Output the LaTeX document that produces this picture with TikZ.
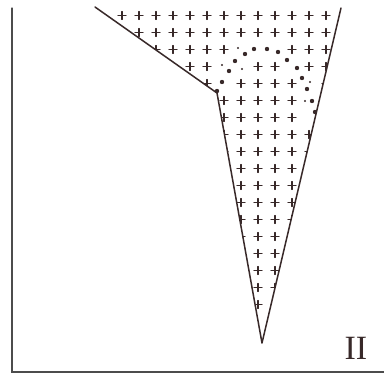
\documentclass[tikz,border=0pt]{standalone}
\usepackage{fontspec}
\setmainfont{Liberation Serif}
\definecolor{inkc}{rgb}{0.22,0.16,0.16}
\begin{document}
\begin{tikzpicture}[x=1pt, y=-1pt, line cap=round, inkc]
    \useasboundingbox (0,0) rectangle (384,375);
    \draw[line width=1.3pt, black!70] (12,8) -- (12,372) -- (384,372);
    \coordinate (tl) at (95,7);
    \coordinate (kink) at (217,93);
    \coordinate (tip) at (262,343);
    \coordinate (tr) at (341,8);
    % crosses left out along the dotted arc
    \foreach \p in {7-2,8-2,9-2,6-3,7-3,10-3,6-4,11-4,11-5,11-6}
        \expandafter\gdef\csname sk\p\endcsname{};
    \begin{scope}
        \clip (tl) -- (kink) -- (tip) -- (tr) -- cycle;
        \foreach \i in {0,...,12}
            \foreach \j in {0,...,17}{
                \ifcsname sk\i-\j\endcsname\else
                    \draw[line width=1.1pt] ({122+17*\i},{15.5+17*\j}) ++(-4,0) -- ++(8,0) ++(-4,-4) -- ++(0,8);
                \fi}
    \end{scope}
    \draw[line width=1.5pt, line join=round] (tl) -- (kink) -- (tip) -- (tr);
    \foreach \x/\y in {217/91,222/82,229/71,235/61,245/54,254/49,267/49,278/52,287/60,297/68,302/78,307/89,312/101,315/112}
        \fill (\x,\y) circle (2.2pt);
    \foreach \x/\y in {238/48,222/65,242/69,310/82,305/101}
        \fill (\x,\y) circle (1.1pt);
    \node (tag) at (356,348.5) {\fontsize{34}{34}\selectfont II};
\end{tikzpicture}
\end{document}
